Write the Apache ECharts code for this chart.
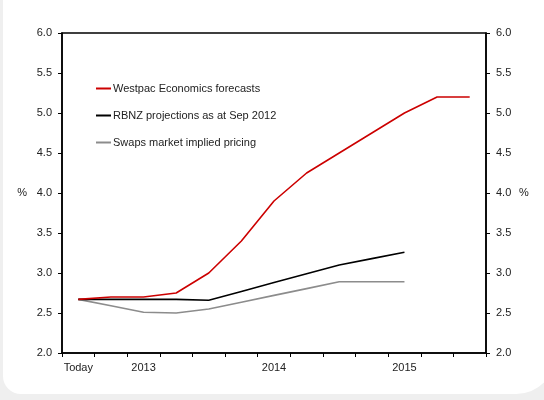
<!DOCTYPE html>
<html>
<head>
<meta charset="utf-8">
<script src="https://cdn.jsdelivr.net/npm/echarts@6/dist/echarts.min.js"></script>
<style>
  html, body { margin: 0; padding: 0; background: #efefef; }
  #chart { width: 544px; height: 400px; }
</style>
</head>
<body>
<div id="chart"></div>
<script>
// Quarterly periods from Sep 2012 to Sep 2015
const quarters = ['Sep-12', 'Dec-12', 'Mar-13', 'Jun-13', 'Sep-13', 'Dec-13',
                  'Mar-14', 'Jun-14', 'Sep-14', 'Dec-14', 'Mar-15', 'Jun-15', 'Sep-15'];
// Axis labels shown under selected quarters
const quarterLabels = ['Today', '', '2013', '', '', '', '2014', '', '', '', '2015', '', ''];

// OCR paths (%)
const westpac = [2.67, 2.70, 2.70, 2.75, 3.00, 3.40, 3.90, 4.25, 4.50, 4.75, 5.00, 5.20, 5.20];
const rbnz    = [2.67, 2.67, 2.67, 2.67, 2.66, 2.77, 2.88, 2.99, 3.10, 3.18, 3.26, null, null];
const swaps   = [2.67, 2.59, 2.51, 2.50, 2.55, 2.635, 2.72, 2.805, 2.89, 2.89, 2.89, null, null];

const yMin = 2, yMax = 6, yStep = 0.5;

const chart = echarts.init(document.getElementById('chart'), null, { renderer: 'canvas' });
const font = 'Liberation Sans, Arial, sans-serif';
const axisText = { color: '#222', fontSize: 11, fontFamily: font };

const yAxisBase = {
  type: 'value', min: yMin, max: yMax, interval: yStep,
  name: '%', nameLocation: 'middle', nameRotate: 0,
  nameTextStyle: axisText,
  axisLine: { show: true, lineStyle: { color: '#000', width: 1.5 } },
  axisTick: { show: true, length: 4, lineStyle: { color: '#000' } },
  axisLabel: { ...axisText, margin: 10, formatter: v => v.toFixed(1) },
  splitLine: { show: false }
};

chart.setOption({
  backgroundColor: 'transparent',
  animation: false,
  graphic: [{
    type: 'rect', z: -10, silent: true,
    shape: { x: 3, y: -30, width: 553, height: 424, r: [0, 0, 40, 18] },
    style: { fill: '#ffffff' }
  }],
  grid: { left: 62, right: 58, top: 33, bottom: 47, show: true, borderColor: '#000', borderWidth: 1.5, backgroundColor: 'transparent' },
  legend: {
    orient: 'vertical', left: 91, top: 78,
    itemWidth: 15, itemHeight: 2, itemGap: 16,
    icon: 'rect',
    textStyle: { color: '#222', fontSize: 11, fontFamily: font, padding: [0, 0, 0, -3] },
    data: ['Westpac Economics forecasts', 'RBNZ projections as at Sep 2012', 'Swaps market implied pricing']
  },
  xAxis: {
    type: 'category', data: quarters, boundaryGap: true,
    axisLine: { lineStyle: { color: '#000', width: 1.5 } },
    axisTick: { show: true, interval: 0, length: 4, lineStyle: { color: '#000' } },
    axisLabel: { ...axisText, interval: 0, margin: 9, formatter: (v, i) => quarterLabels[i] },
    splitLine: { show: false }
  },
  yAxis: [
    { ...yAxisBase, position: 'left', nameGap: 35 },
    { ...yAxisBase, position: 'right', nameGap: 33 }
  ],
  series: [
    { name: 'Westpac Economics forecasts', type: 'line', data: westpac, showSymbol: false, z: 4,
      itemStyle: { color: '#cc0000' }, lineStyle: { color: '#cc0000', width: 1.6 } },
    { name: 'RBNZ projections as at Sep 2012', type: 'line', data: rbnz, showSymbol: false, z: 3,
      itemStyle: { color: '#000000' }, lineStyle: { color: '#000000', width: 1.6 } },
    { name: 'Swaps market implied pricing', type: 'line', data: swaps, showSymbol: false, z: 2,
      itemStyle: { color: '#8c8c8c' }, lineStyle: { color: '#8c8c8c', width: 1.6 } }
  ]
});
</script>
</body>
</html>
